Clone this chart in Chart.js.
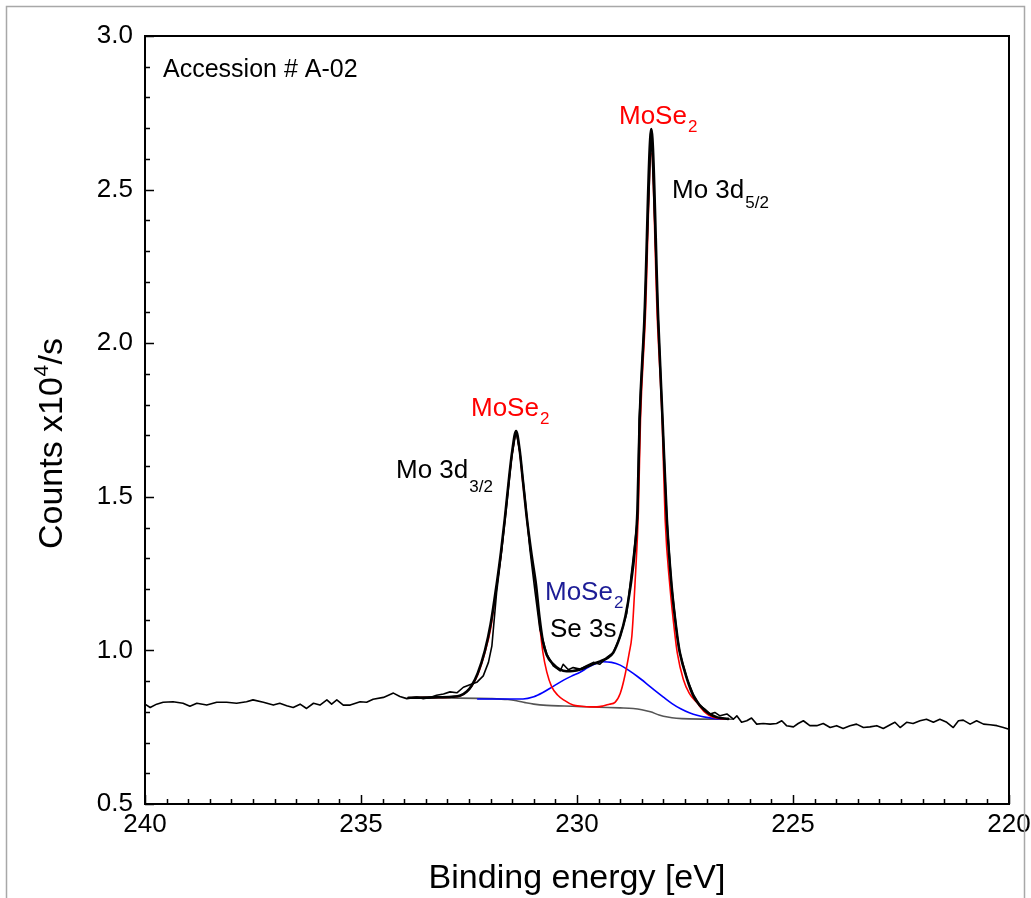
<!DOCTYPE html>
<html><head><meta charset="utf-8">
<script src="https://cdn.jsdelivr.net/npm/chart.js@4.4.1/dist/chart.umd.min.js"></script>
<style>html,body{margin:0;padding:0;background:#fff;}#wrap{width:1031px;height:898px;position:relative;background:#fff;}</style>
</head><body><div id="wrap"><canvas id="c" width="1031" height="898"></canvas></div>
<script>
// ---- Data (binding energy in eV, counts in 10^4/s) ----
const rawEnergy = [240.00,239.88,239.73,239.58,239.35,239.12,238.96,238.80,238.57,238.34,238.11,237.88,237.65,237.50,237.26,237.03,236.88,236.72,236.57,236.41,236.26,236.10,235.95,235.79,235.68,235.56,235.41,235.25,235.02,234.87,234.72,234.48,234.25,234.10,233.94,233.71,233.56,233.40,233.25,233.09,232.94,232.78,232.63,232.48,232.32,232.17,232.05,231.97,231.86,231.74,231.63,231.51,231.41,231.32,231.20,231.09,230.97,230.86,230.70,230.55,230.39,230.32,230.20,230.09,229.93,229.78,229.62,229.47,229.31,229.16,229.00,228.85,228.70,228.60,228.56,228.44,228.28,228.12,228.02,227.92,227.81,227.68,227.62,227.45,227.30,227.15,227.04,226.92,226.81,226.69,226.53,226.38,226.30,226.19,226.07,225.96,225.84,225.69,225.53,225.38,225.26,225.15,224.99,224.88,224.76,224.61,224.45,224.30,224.14,223.99,223.84,223.68,223.53,223.37,223.22,223.06,222.91,222.75,222.64,222.52,222.37,222.22,222.06,221.91,221.75,221.60,221.44,221.29,221.17,221.06,220.90,220.75,220.59,220.44,220.28,220.13,220.02];
const rawCounts = [0.825,0.814,0.825,0.831,0.833,0.828,0.818,0.828,0.822,0.831,0.831,0.828,0.833,0.839,0.831,0.822,0.828,0.820,0.814,0.825,0.811,0.828,0.822,0.839,0.825,0.839,0.822,0.822,0.833,0.831,0.841,0.847,0.861,0.850,0.843,0.848,0.843,0.847,0.854,0.858,0.865,0.862,0.880,0.888,0.896,0.917,0.961,1.015,1.190,1.329,1.470,1.632,1.714,1.643,1.492,1.329,1.190,1.069,0.988,0.950,0.933,0.955,0.937,0.944,0.939,0.950,0.961,0.955,0.977,0.993,1.045,1.120,1.300,1.430,1.752,2.077,2.697,2.077,1.752,1.427,1.210,1.047,0.993,0.906,0.855,0.820,0.809,0.793,0.798,0.787,0.793,0.776,0.787,0.766,0.771,0.780,0.760,0.762,0.760,0.762,0.771,0.755,0.751,0.762,0.771,0.755,0.755,0.762,0.749,0.755,0.746,0.755,0.760,0.749,0.751,0.755,0.746,0.758,0.766,0.749,0.766,0.762,0.771,0.776,0.766,0.776,0.766,0.749,0.771,0.773,0.760,0.771,0.760,0.758,0.755,0.749,0.744];

const envEnergy = [233.9,233.3,232.9,232.7,232.55,232.44,232.3,232.13,232.0,231.86,231.76,231.67,231.57,231.5,231.41,231.33,231.25,231.16,231.05,230.95,230.87,230.79,230.7,230.55,230.4,230.24,230.1,229.93,229.75,229.6,229.45,229.3,229.16,229.0,228.88,228.76,228.66,228.6,228.55,228.44,228.28,228.12,228.02,227.92,227.81,227.68,227.62,227.45,227.3,227.15,226.95,226.75,226.5];
const envCounts = [0.846,0.847,0.849,0.853,0.866,0.885,0.925,1.000,1.085,1.215,1.320,1.430,1.565,1.648,1.714,1.655,1.550,1.430,1.310,1.215,1.110,1.030,0.985,0.955,0.938,0.932,0.933,0.938,0.948,0.957,0.965,0.975,0.993,1.047,1.110,1.210,1.330,1.460,1.752,2.077,2.697,2.077,1.752,1.427,1.210,1.047,0.993,0.906,0.850,0.820,0.795,0.782,0.777];

const moEnergy = [233.9,233.3,232.9,232.7,232.55,232.44,232.3,232.13,232.0,231.86,231.76,231.67,231.57,231.5,231.41,231.33,231.25,231.16,231.05,230.95,230.87,230.79,230.7,230.59,230.45,230.3,230.09,229.9,229.7,229.54,229.4,229.25,229.12,229.0,228.91,228.79,228.73,228.66,228.58,228.53,228.42,228.28,228.14,228.03,227.96,227.85,227.73,227.68,227.54,227.4,227.23,227.05,226.85,226.6];
const moCounts = [0.846,0.847,0.848,0.852,0.866,0.883,0.920,0.994,1.070,1.209,1.310,1.427,1.560,1.640,1.703,1.650,1.540,1.427,1.300,1.209,1.090,0.994,0.930,0.883,0.855,0.838,0.822,0.818,0.816,0.816,0.819,0.825,0.831,0.860,0.906,0.993,1.047,1.210,1.450,1.752,2.077,2.619,2.077,1.752,1.427,1.210,1.047,0.993,0.906,0.860,0.831,0.800,0.782,0.777];

const se3sEnergy = [232.3,231.6,231.25,231.0,230.8,230.55,230.3,230.1,229.93,229.75,229.6,229.4,229.2,229.0,228.8,228.6,228.4,228.2,228.0,227.8,227.6,227.4,227.2,227.0,226.8,226.6];
const se3sCounts = [0.842,0.842,0.842,0.849,0.862,0.883,0.904,0.918,0.929,0.944,0.955,0.963,0.961,0.952,0.935,0.915,0.893,0.870,0.848,0.827,0.810,0.797,0.788,0.782,0.778,0.777];

const bgEnergy = [233.9,233.0,232.0,231.6,231.4,231.2,231.0,230.7,230.3,229.9,229.5,229.0,228.7,228.5,228.3,228.1,227.9,227.7,227.4,226.4];
const bgCounts = [0.846,0.845,0.843,0.840,0.836,0.830,0.825,0.821,0.819,0.817,0.815,0.813,0.811,0.807,0.800,0.790,0.783,0.779,0.777,0.776];

const xTickValues = [240,235,230,225,220];
const yTickValues = [0.5,1.0,1.5,2.0,2.5,3.0];

const FONT = "'Liberation Sans', Arial, sans-serif";
const pts = (xs, ys) => xs.map((x, i) => ({x: x, y: ys[i]}));

const decor = {
  id: 'decor',
  afterDraw(chart) {
    const ctx = chart.ctx, a = chart.chartArea;
    const xs = chart.scales.x, ys = chart.scales.y;
    ctx.save();
    // outer light border
    ctx.strokeStyle = '#a8a8a8'; ctx.lineWidth = 1.5;
    ctx.beginPath(); ctx.moveTo(6.5, 898); ctx.lineTo(6.5, 6.5); ctx.lineTo(1024.5, 6.5); ctx.lineTo(1024.5, 898); ctx.stroke();
    // frame
    ctx.strokeStyle = '#000'; ctx.lineWidth = 2;
    ctx.strokeRect(a.left, a.top, a.right - a.left, a.bottom - a.top);
    // inward ticks
    ctx.lineWidth = 1.5;
    ctx.beginPath();
    for (let i = 0; i <= 40; i++) {
      const v = 220 + i * 0.5;
      const px = Math.round(xs.getPixelForValue(v)) + 0.5;
      const len = (i % 10 === 0) ? 9 : 5;
      ctx.moveTo(px, a.bottom); ctx.lineTo(px, a.bottom - len);
    }
    for (let i = 0; i <= 25; i++) {
      const v = 0.5 + i * 0.1;
      const py = Math.round(ys.getPixelForValue(v)) + 0.5;
      const len = (i % 5 === 0) ? 9 : 5;
      ctx.moveTo(a.left, py); ctx.lineTo(a.left + len, py);
    }
    ctx.stroke();

    ctx.textBaseline = 'alphabetic'; ctx.textAlign = 'left';
    function sub(main, s, x, y, size, subSize, dy, color) {
      ctx.fillStyle = color;
      ctx.font = size + 'px ' + FONT;
      ctx.fillText(main, x, y);
      const w = ctx.measureText(main).width;
      ctx.font = subSize + 'px ' + FONT;
      ctx.fillText(s, x + w + 1, y + dy);
    }
    ctx.fillStyle = '#000';
    ctx.font = '25px ' + FONT;
    ctx.fillText('Accession # A-02', 163, 77);
    sub('MoSe', '2', 619, 124, 26, 17, 8, '#ff0000');
    sub('Mo 3d', '5/2', 672, 198, 26, 17, 10, '#000');
    sub('MoSe', '2', 471, 416, 26, 17, 8, '#ff0000');
    sub('Mo 3d', '3/2', 396, 478, 26, 17, 14, '#000');
    sub('MoSe', '2', 545, 600, 26, 17, 8, '#1c1c96');
    ctx.fillStyle = '#000'; ctx.font = '26px ' + FONT;
    ctx.fillText('Se 3s', 550, 637);

    // axis titles
    ctx.font = '34px ' + FONT; ctx.textAlign = 'center';
    ctx.fillText('Binding energy [eV]', (a.left + a.right) / 2, 888);
    // y title rotated with superscript
    ctx.save();
    ctx.translate(62, 443.5);
    ctx.rotate(-Math.PI / 2);
    ctx.textAlign = 'left';
    ctx.font = '34px ' + FONT;
    const t1 = 'Counts x10', t3 = '/s';
    const w1 = ctx.measureText(t1).width, w3 = ctx.measureText(t3).width;
    ctx.font = '21px ' + FONT;
    const w2 = ctx.measureText('4').width;
    const total = w1 + w2 + w3 + 1;
    let x0 = -total / 2;
    ctx.font = '34px ' + FONT; ctx.fillText(t1, x0, 0);
    ctx.font = '21px ' + FONT; ctx.fillText('4', x0 + w1 + 0.5, -14);
    ctx.font = '34px ' + FONT; ctx.fillText(t3, x0 + w1 + w2 + 1, 0);
    ctx.restore();
    ctx.restore();
  }
};

const smooth = {cubicInterpolationMode: 'monotone'};

new Chart(document.getElementById('c'), {
  type: 'line',
  data: {
    datasets: [
      Object.assign({label: 'Envelope', data: pts(envEnergy, envCounts), borderColor: '#000', borderWidth: 2.6}, smooth),
      {label: 'Raw', data: pts(rawEnergy, rawCounts), borderColor: '#000', borderWidth: 1.6},
      Object.assign({label: 'MoSe2 Mo 3d', data: pts(moEnergy, moCounts), borderColor: '#ff0000', borderWidth: 1.6}, smooth),
      Object.assign({label: 'MoSe2 Se 3s', data: pts(se3sEnergy, se3sCounts), borderColor: '#0000ff', borderWidth: 1.6}, smooth),
      Object.assign({label: 'Background', data: pts(bgEnergy, bgCounts), borderColor: '#555555', borderWidth: 1.6}, smooth)
    ]
  },
  options: {
    responsive: false,
    animation: false,
    devicePixelRatio: 1,
    layout: {padding: {left: 0, right: 22, top: 36, bottom: 0}},
    elements: {point: {radius: 0}, line: {tension: 0, fill: false, borderJoinStyle: 'round', borderCapStyle: 'round'}},
    plugins: {legend: {display: false}, tooltip: {enabled: false}},
    scales: {
      x: {
        type: 'linear', min: 220, max: 240, reverse: true,
        afterBuildTicks: s => { s.ticks = xTickValues.map(v => ({value: v})); },
        ticks: {color: '#000', font: {size: 26, family: FONT}, padding: 5, maxRotation: 0, autoSkip: false,
                callback: v => String(v)},
        grid: {display: false, drawTicks: false},
        border: {display: false},
        afterFit: s => { s.height = 94; s.paddingLeft = 0; s.paddingRight = 0; }
      },
      y: {
        type: 'linear', min: 0.5, max: 3.0,
        afterBuildTicks: s => { s.ticks = yTickValues.map(v => ({value: v})); },
        ticks: {color: '#000', font: {size: 26, family: FONT}, padding: 12, autoSkip: false,
                callback: v => Number(v).toFixed(1)},
        grid: {display: false, drawTicks: false},
        border: {display: false},
        afterFit: s => { s.width = 145; s.paddingTop = 0; s.paddingBottom = 0; }
      }
    }
  },
  plugins: [decor]
});
</script>
</body></html>
